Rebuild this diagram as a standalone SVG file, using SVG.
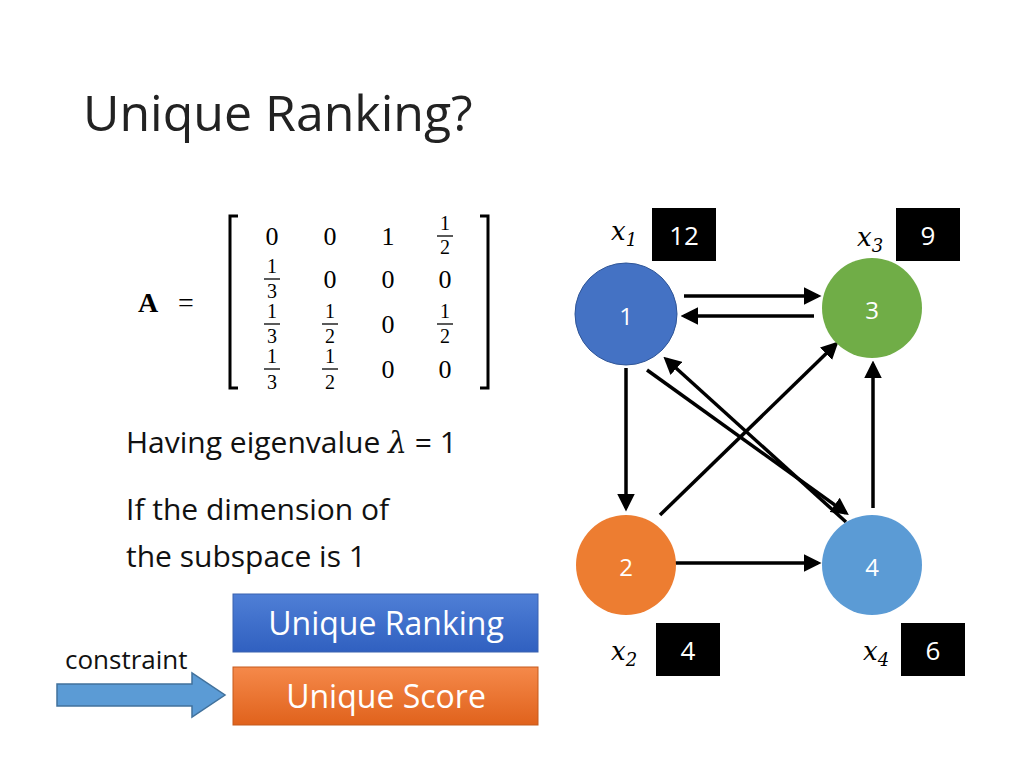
<svg xmlns="http://www.w3.org/2000/svg" width="1024" height="768" viewBox="0 0 1024 768">
<style>
.t{font-family:"Open Sans","Liberation Sans",sans-serif}
.m{font-family:"Liberation Serif",serif;font-size:26px;text-anchor:middle}
.f{font-family:"Liberation Serif",serif;font-size:20px;text-anchor:middle}
.fl{stroke:#000;stroke-width:1.3}
.e{stroke:#000;stroke-width:3.5;fill:none;marker-end:url(#ah)}
.nl{font-family:"Open Sans","Liberation Sans",sans-serif;font-size:24px;fill:#fff;text-anchor:middle}
.bx{fill:#000}
.bt{font-family:"Open Sans","Liberation Sans",sans-serif;font-size:26px;fill:#fff;text-anchor:middle}
.xv{font-family:"DejaVu Serif",serif;font-style:italic;font-size:26px}
</style>
<defs>
<marker id="ah" markerWidth="5" markerHeight="5" refX="4" refY="2.5" orient="auto"><path d="M0,0 L5,2.5 L0,5 z" fill="#000"/></marker>
<linearGradient id="gb" x1="0" y1="0" x2="0" y2="1"><stop offset="0" stop-color="#4f7fd6"/><stop offset="1" stop-color="#3060c0"/></linearGradient>
<linearGradient id="go" x1="0" y1="0" x2="0" y2="1"><stop offset="0" stop-color="#f5894a"/><stop offset="1" stop-color="#e0621c"/></linearGradient>
</defs>
<rect width="1024" height="768" fill="#fff"/>
<text class="t" x="83" y="131" font-size="50" fill="#222">Unique Ranking?</text>
<g id="matrix">
<text x="138" y="312" font-family="Liberation Serif,serif" font-size="28" font-weight="bold">A</text>
<text x="178" y="312" font-family="Liberation Serif,serif" font-size="28">=</text>
<path d="M238,216 H230 V388 H238 M480,216 H488 V388 H480" stroke="#000" stroke-width="3" fill="none"/>
<text class="m" x="272" y="245">0</text><text class="m" x="330" y="245">0</text><text class="m" x="388" y="245">1</text>
<text class="f" x="445" y="230">1</text><line class="fl" x1="437" y1="236" x2="453" y2="236"/><text class="f" x="445" y="254">2</text>
<text class="f" x="272" y="273">1</text><line class="fl" x1="264" y1="279" x2="280" y2="279"/><text class="f" x="272" y="298">3</text>
<text class="m" x="330" y="288">0</text><text class="m" x="388" y="288">0</text><text class="m" x="445" y="288">0</text>
<text class="f" x="272" y="318">1</text><line class="fl" x1="264" y1="324" x2="280" y2="324"/><text class="f" x="272" y="343">3</text>
<text class="f" x="330" y="318">1</text><line class="fl" x1="322" y1="324" x2="338" y2="324"/><text class="f" x="330" y="343">2</text>
<text class="m" x="388" y="333">0</text>
<text class="f" x="445" y="318">1</text><line class="fl" x1="437" y1="324" x2="453" y2="324"/><text class="f" x="445" y="343">2</text>
<text class="f" x="272" y="363">1</text><line class="fl" x1="264" y1="369" x2="280" y2="369"/><text class="f" x="272" y="389">3</text>
<text class="f" x="330" y="363">1</text><line class="fl" x1="322" y1="369" x2="338" y2="369"/><text class="f" x="330" y="389">2</text>
<text class="m" x="388" y="378">0</text><text class="m" x="445" y="378">0</text>
</g>
<text class="t" x="126" y="453" font-size="30" fill="#111">Having eigenvalue <tspan font-family="DejaVu Serif,serif" font-style="italic">λ</tspan> = 1</text>
<text class="t" x="126" y="520" font-size="30" fill="#111">If the dimension of</text>
<text class="t" x="126" y="567" font-size="30" fill="#111">the subspace is 1</text>
<g id="ranking"><rect x="233" y="594" width="305" height="58" fill="url(#gb)" stroke="#3a62b0"/><text class="t" x="386" y="635" font-size="32" fill="#fff" text-anchor="middle">Unique Ranking</text></g>
<g id="score"><rect x="233" y="667" width="305" height="58" fill="url(#go)" stroke="#c55a1c"/><text class="t" x="386" y="708" font-size="32" fill="#fff" text-anchor="middle">Unique Score</text></g>
<text class="t" x="65" y="669" font-size="26" fill="#111">constraint</text>
<path id="arrow" d="M57,684 H192 V673 L225,695 L192,717 V706 H57 z" fill="#5b9bd5" stroke="#41719c" stroke-width="1.5"/>
<g id="connectors">
<line class="e" x1="684" y1="296" x2="818" y2="296"/>
<line class="e" x1="814" y1="316" x2="684" y2="316"/>
<line class="e" x1="626" y1="368" x2="626" y2="508"/>
<line class="e" x1="647" y1="370" x2="846" y2="513"/>
<line class="e" x1="846" y1="522" x2="666" y2="359"/>
<line class="e" x1="660" y1="515" x2="836" y2="344"/>
<line class="e" x1="668" y1="563" x2="818" y2="563"/>
<line class="e" x1="873" y1="508" x2="873" y2="364"/>
</g>
<g id="n1"><circle cx="626" cy="314" r="51" fill="#4472c4" stroke="#2f5597"/><text class="nl" x="626" y="325">1</text></g>
<g id="n3"><circle cx="872" cy="308" r="50" fill="#70ad47"/><text class="nl" x="872" y="319">3</text></g>
<g id="n2"><circle cx="626" cy="565" r="50" fill="#ed7d31"/><text class="nl" x="626" y="576">2</text></g>
<g id="n4"><circle cx="872" cy="565" r="50" fill="#5b9bd5"/><text class="nl" x="872" y="576">4</text></g>
<g id="v1"><text class="xv" x="611" y="240">x<tspan font-size="18" dy="6">1</tspan></text><rect class="bx" x="652" y="208" width="64" height="53"/><text class="bt" x="684" y="245">12</text></g>
<g id="v3"><text class="xv" x="857" y="246">x<tspan font-size="18" dy="6">3</tspan></text><rect class="bx" x="896" y="208" width="64" height="53"/><text class="bt" x="928" y="245">9</text></g>
<g id="v2"><text class="xv" x="611" y="660">x<tspan font-size="18" dy="6">2</tspan></text><rect class="bx" x="656" y="623" width="64" height="53"/><text class="bt" x="688" y="660">4</text></g>
<g id="v4"><text class="xv" x="863" y="660">x<tspan font-size="18" dy="6">4</tspan></text><rect class="bx" x="901" y="623" width="64" height="53"/><text class="bt" x="933" y="660">6</text></g>
</svg>
